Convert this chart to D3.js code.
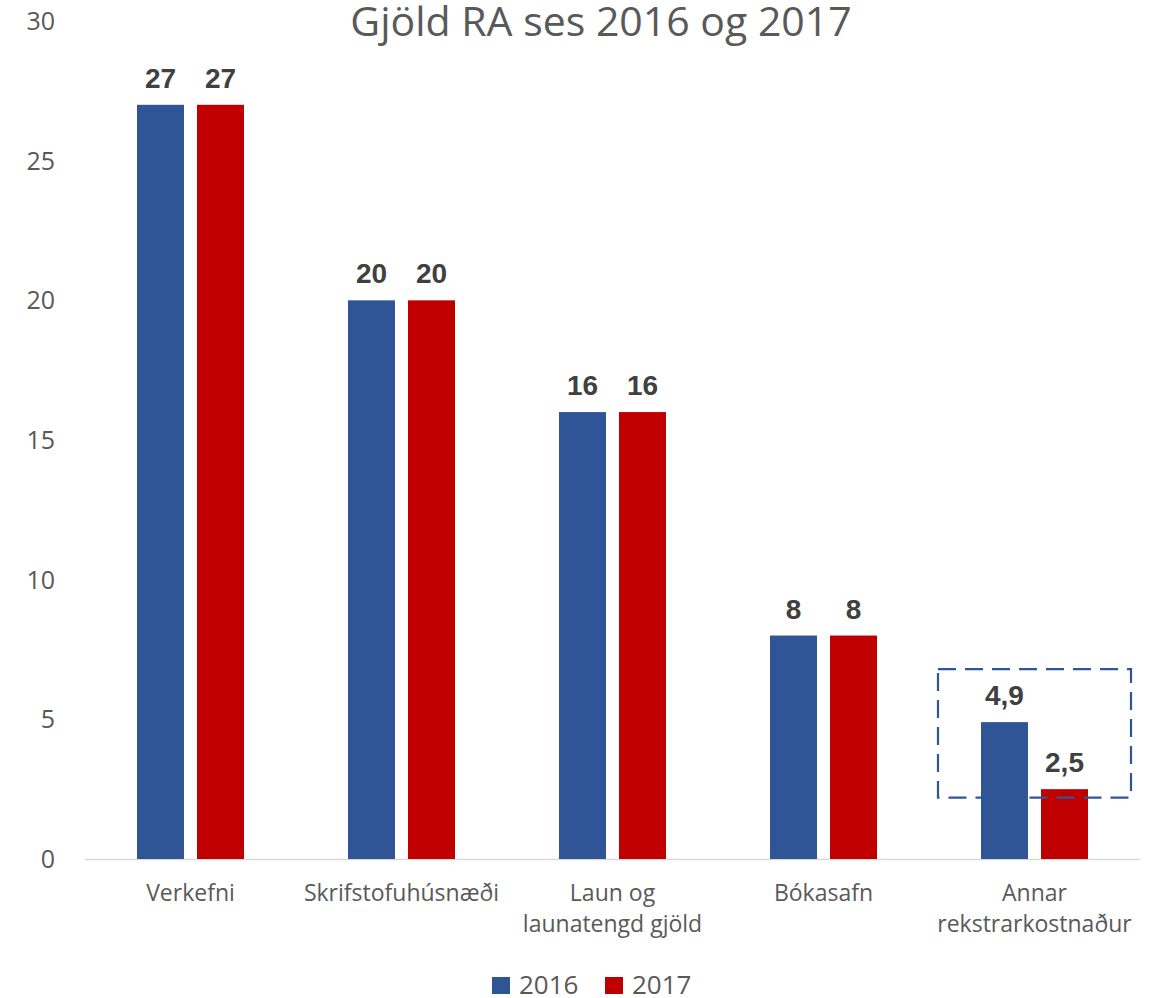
<!DOCTYPE html>
<html>
<head>
<meta charset="utf-8">
<script src="https://cdn.jsdelivr.net/npm/d3@7"></script>
<style>
  body { margin: 0; background: #fff; }
  text { font-family: "Open Sans", sans-serif; }
</style>
</head>
<body>
<div class="chart"></div>
<script>
var svgWidth = 1150;
var svgHeight = 998;

// chart data
var categories = ["Verkefni", "Skrifstofuhúsnæði", "Laun og|launatengd gjöld", "Bókasafn", "Annar|rekstrarkostnaður"];
var seriesNames = ["2016", "2017"];
var values2016 = [27, 20, 16, 8, 4.9];
var values2017 = [27, 20, 16, 8, 2.5];
var yTicks = [0, 5, 10, 15, 20, 25, 30];
var colors = ["#2F5597", "#C00000"];

// dashed highlight box around the last group (value range)
var highlightCategory = "Annar|rekstrarkostnaður";
var highlightRange = [2.2, 6.8];

var svg = d3.select(".chart")
  .append("svg")
  .attr("width", svgWidth)
  .attr("height", svgHeight);

var xScale = d3.scaleBand()
  .domain(categories)
  .range([85, 1140]);

var yScale = d3.scaleLinear()
  .domain([0, 30])
  .range([859, 21]);

var xInner = d3.scaleBand()
  .domain(seriesNames)
  .range([0, 107])
  .paddingInner(0.217);

var groupOffset = (xScale.bandwidth() - 107) / 2;

// y axis labels (no line, no ticks)
svg.append("g")
  .selectAll("text")
  .data(yTicks)
  .enter()
  .append("text")
  .attr("x", 55)
  .attr("y", d => yScale(d))
  .attr("dy", "0.36em")
  .attr("text-anchor", "end")
  .attr("fill", "#595959")
  .attr("font-size", 25)
  .text(d => d);

// x axis line
svg.append("line")
  .attr("x1", xScale.range()[0])
  .attr("x2", xScale.range()[1])
  .attr("y1", yScale(0) + 0.5)
  .attr("y2", yScale(0) + 0.5)
  .attr("stroke", "#d9d9d9")
  .attr("stroke-width", 1.5);

// bars
var seriesValues = [values2016, values2017];
var groups = svg.append("g")
  .selectAll("g")
  .data(categories)
  .enter()
  .append("g")
  .attr("transform", d => `translate(${xScale(d) + groupOffset}, 0)`);

groups.selectAll("rect")
  .data((d, i) => seriesNames.map((s, j) => ({ series: s, value: seriesValues[j][i], color: colors[j] })))
  .enter()
  .append("rect")
  .attr("x", d => xInner(d.series))
  .attr("width", xInner.bandwidth())
  .attr("y", d => yScale(d.value))
  .attr("height", d => yScale(0) - yScale(d.value))
  .attr("fill", d => d.color);

// value labels
groups.selectAll("text.val")
  .data((d, i) => seriesNames.map((s, j) => ({ series: s, value: seriesValues[j][i] })))
  .enter()
  .append("text")
  .attr("class", "val")
  .attr("x", d => xInner(d.series) + xInner.bandwidth() / 2)
  .attr("y", d => yScale(d.value) - 17)
  .attr("text-anchor", "middle")
  .attr("fill", "#404040")
  .attr("font-size", 28)
  .attr("font-weight", "bold")
  .style("font-family", "'Liberation Sans', Arial, sans-serif")
  .text(d => String(d.value).replace(".", ","));

// category labels
var catLabels = svg.append("g")
  .selectAll("text")
  .data(categories)
  .enter()
  .append("text")
  .attr("x", d => xScale(d) + xScale.bandwidth() / 2)
  .attr("y", 901)
  .attr("text-anchor", "middle")
  .attr("fill", "#595959")
  .attr("font-size", 23);

catLabels.each(function(d) {
  var lines = d.split("|");
  var t = d3.select(this);
  lines.forEach(function(line, i) {
    t.append("tspan")
      .attr("x", xScale(d) + xScale.bandwidth() / 2)
      .attr("dy", i === 0 ? 0 : 31)
      .text(line);
  });
});

// highlight box
svg.append("rect")
  .attr("x", xScale(highlightCategory) + 9)
  .attr("width", xScale.bandwidth() - 18)
  .attr("y", yScale(highlightRange[1]))
  .attr("height", yScale(highlightRange[0]) - yScale(highlightRange[1]))
  .attr("fill", "none")
  .attr("stroke", "#2F5597")
  .attr("stroke-width", 2.2)
  .attr("stroke-dasharray", "18,9");

// title
svg.append("text")
  .attr("x", 601)
  .attr("y", 36)
  .attr("text-anchor", "middle")
  .attr("fill", "#595959")
  .attr("font-size", 41)
  .text("Gjöld RA ses 2016 og 2017");

// legend
var legend = svg.append("g")
  .selectAll("g")
  .data(seriesNames)
  .enter()
  .append("g")
  .attr("transform", (d, i) => `translate(${492 + i * 113}, 0)`);

legend.append("rect")
  .attr("x", 0)
  .attr("y", 977)
  .attr("width", 18)
  .attr("height", 17)
  .attr("fill", (d, i) => colors[i]);

legend.append("text")
  .attr("x", 27)
  .attr("y", 994)
  .attr("fill", "#595959")
  .attr("font-size", 26)
  .text(d => d);
</script>
</body>
</html>
